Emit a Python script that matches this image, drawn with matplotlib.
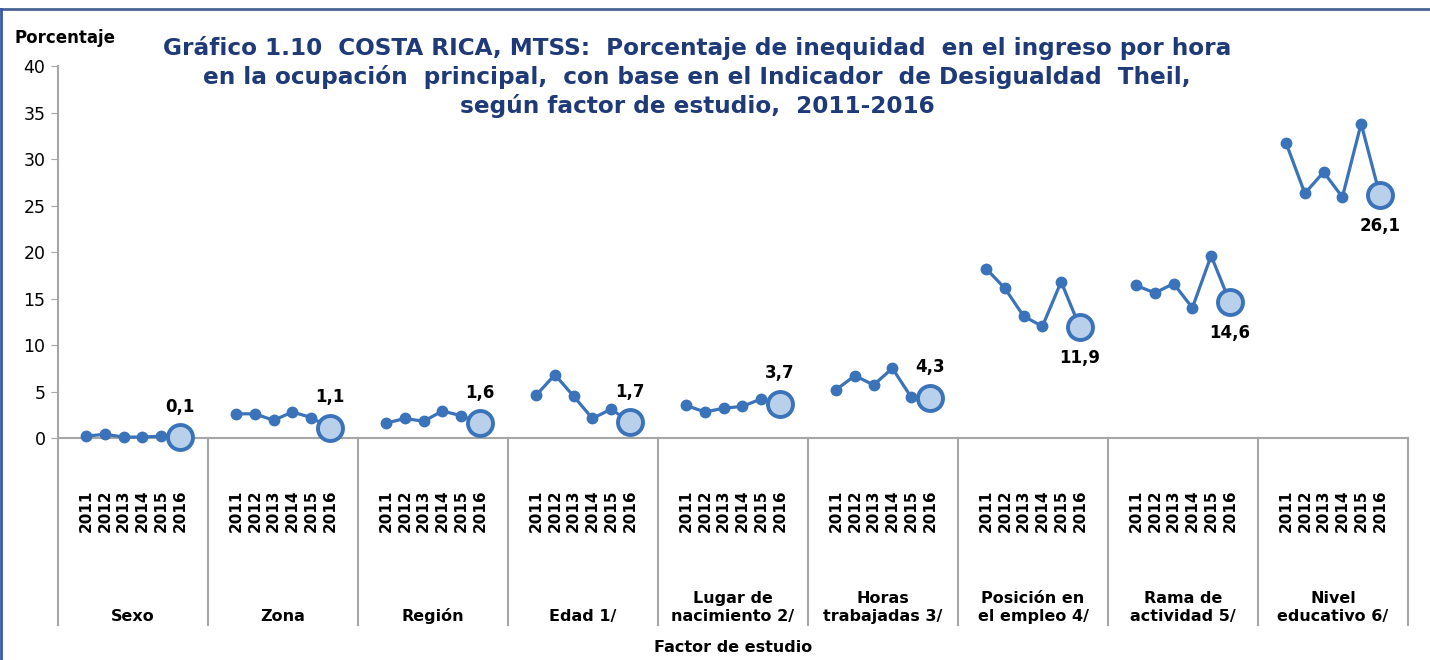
import matplotlib.pyplot as plt
from matplotlib.lines import Line2D
from matplotlib.transforms import blended_transform_factory

# data (percent, 2011-2016)
years = ["2011", "2012", "2013", "2014", "2015", "2016"]
groups = ["Sexo", "Zona", "Región", "Edad 1/", "Lugar de\nnacimiento 2/",
          "Horas\ntrabajadas 3/", "Posición en\nel empleo 4/",
          "Rama de\nactividad 5/", "Nivel\neducativo 6/"]
sexo = [0.2, 0.4, 0.1, 0.1, 0.2, 0.1]
zona = [2.6, 2.6, 1.9, 2.8, 2.2, 1.1]
region = [1.6, 2.1, 1.8, 2.9, 2.4, 1.6]
edad = [4.6, 6.8, 4.5, 2.1, 3.1, 1.7]
lugar = [3.5, 2.8, 3.2, 3.4, 4.2, 3.7]
horas = [5.2, 6.7, 5.7, 7.5, 4.4, 4.3]
posicion = [18.2, 16.1, 13.1, 12.0, 16.8, 11.9]
rama = [16.4, 15.6, 16.6, 14.0, 19.6, 14.6]
nivel = [31.7, 26.3, 28.6, 25.9, 33.8, 26.1]
last_labels = ["0,1", "1,1", "1,6", "1,7", "3,7", "4,3", "11,9", "14,6", "26,1"]
label_below = [False, False, False, False, False, False, True, True, True]

series = [sexo, zona, region, edad, lugar, horas, posicion, rama, nivel]

blue = "#3A73BA"
light = "#B9D0EB"
grey = "#A6A6A6"
navy = "#1F3A78"
slot = 8  # blank, 6 years, blank per group

fig = plt.figure(figsize=(14.3, 6.6), dpi=100)
ax = fig.add_axes([58 / 1430, 1 - 438 / 660, 1350 / 1430, 372 / 660])

xt, xl = [], []
for g, vals in enumerate(series):
    xs = [g * slot + 1 + k for k in range(len(vals))]
    ax.plot(xs, vals, color=blue, lw=2.3, marker="o", ms=7.5, zorder=3,
            clip_on=False)
    ax.plot(xs[-1], vals[-1], marker="o", ms=18, mfc=light, mec=blue,
            mew=2.8, zorder=4, clip_on=False)
    off = -22 if label_below[g] else 22
    ax.annotate(last_labels[g], (xs[-1], vals[-1]), xytext=(0, off),
                textcoords="offset points", ha="center", va="center",
                fontsize=12, fontweight="bold", color="black")
    xt += xs
    xl += years

ax.set_xlim(-0.5, len(series) * slot - 0.5)
ax.set_ylim(0, 40)
ax.set_yticks(range(0, 41, 5))
ax.tick_params(axis="y", labelsize=12.5, length=5, color=grey, pad=4)
ax.set_xticks(xt)
ax.set_xticklabels(xl, rotation=90, fontsize=11, fontweight="bold")
ax.tick_params(axis="x", length=0, pad=37)
for s in ["top", "right"]:
    ax.spines[s].set_visible(False)
for s in ["left", "bottom"]:
    ax.spines[s].set_color(grey)
    ax.spines[s].set_linewidth(1.5)

# group separators and group names below the axis
tr = blended_transform_factory(ax.transData, ax.transAxes)
for g in range(len(groups) + 1):
    ax.plot([g * slot - 0.5] * 2, [0, -0.503], transform=tr, color=grey,
            lw=1.5, clip_on=False)
for g, name in enumerate(groups):
    ax.text(g * slot + 3.5, -0.5, name, transform=tr, ha="center",
            va="bottom", fontsize=11.5, fontweight="bold", linespacing=1.25)

fig.text((58 + 1408) / 2 / 1430, 1 - 648 / 660, "Factor de estudio",
         ha="center", va="center", fontsize=11.5, fontweight="bold")
fig.text(14 / 1430, 1 - 38 / 660, "Porcentaje", ha="left", va="center",
         fontsize=12, fontweight="bold")
fig.text(697 / 1430, 1 - 77 / 660,
         "Gráfico 1.10  COSTA RICA, MTSS:  Porcentaje de inequidad  en el ingreso por hora\n"
         "en la ocupación  principal,  con base en el Indicador  de Desigualdad  Theil,\n"
         "según factor de estudio,  2011-2016",
         ha="center", va="center", fontsize=16.7, fontweight="bold",
         color=navy, linespacing=1.28)

# frame lines (top and left)
fig.add_artist(Line2D([0, 1], [1 - 9 / 660] * 2, transform=fig.transFigure,
                      color="#4A6496", lw=2))
fig.add_artist(Line2D([1 / 1430] * 2, [0, 1 - 9 / 660],
                      transform=fig.transFigure, color="#3558A8", lw=2))

fig.savefig("out.png", dpi=100)
